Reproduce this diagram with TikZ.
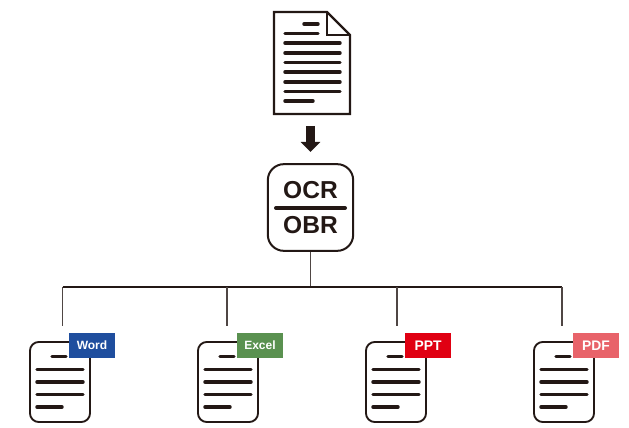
\documentclass[tikz,border=0pt]{standalone}
\usepackage{fontspec}
\setmainfont{Liberation Sans}
\usetikzlibrary{arrows.meta}
\definecolor{inkdark}{HTML}{231815}
\definecolor{wordblue}{HTML}{1F4E9E}
\definecolor{excelgreen}{HTML}{5A9150}
\definecolor{pptred}{HTML}{E00012}
\definecolor{pdfpink}{HTML}{E8636A}
\tikzset{
	pageline/.style={inkdark, line width=2.6pt, line cap=round},
	ruleline/.style={inkdark, line width=3pt, line cap=round},
	pageedge/.style={inkdark, line width=1.7pt, line join=miter},
	treeline/.style={inkdark!80, line width=0.9pt},
	engine/.style={draw=inkdark, line width=1.5pt, fill=white, rounded corners=12pt, minimum width=64pt, minimum height=65pt},
	smalldoc/.style={draw=inkdark, line width=1.4pt, fill=white, rounded corners=6.5pt, minimum width=45pt, minimum height=60pt},
	filetag/.style={minimum width=34.5pt, minimum height=18.75pt, inner sep=0pt, text=white, font=\bfseries},
	bigtext/.style={text=inkdark, inner sep=0pt, font=\fontsize{18.4}{20}\selectfont\bfseries}
}
\begin{document}
\begin{tikzpicture}[x=0.75pt, y=-0.75pt]
	\useasboundingbox (0,0) rectangle (629,428);

	%Scanned page
	\draw[pageedge] (274,12) -- (327,12) -- (350,35) -- (350,114) -- (274,114) -- cycle;
	\draw[pageedge] (327,12) -- (327,35) -- (350,35);
	\draw[pageline] (304,24) -- (318,24);
	\draw[pageline] (285,33.5) -- (318,33.5);
	\foreach \y in {43,53,62.5,72,82,91.5} {
		\draw[pageline] (285,\y) -- (340,\y);
	}
	\draw[pageline] (285,101) -- (313,101);

	%Block arrow
	\coordinate (arrowtop) at (310.5,126);
	\coordinate (arrowend) at (310.5,152);
	\draw[inkdark, line width=6.75pt, -{Triangle[length=7.5pt, width=14.5pt]}] (arrowtop) -- (arrowend);

	%OCR box
	\node[engine] (engine) at (310.5,207.5) {};
	\node[bigtext] (ocrtext) at (310.5,190.5) {OCR};
	\node[bigtext] (obrtext) at (310.5,225) {OBR};
	\draw[ruleline] (276,208) -- (345,208);

	%Tree
	\coordinate (bus) at (310.5,287);
	\coordinate (busleft) at (62.5,287);
	\coordinate (busright) at (562,287);
	\draw[treeline] (engine.south) -- (bus);
	\draw[inkdark, line width=1pt] (busleft) -- (busright);

	%Output files
	\foreach \i/\x/\drop/\label/\col/\size in {
		word/60/62.5/Word/wordblue/9,
		excel/228/227/Excel/excelgreen/9,
		ppt/396/397/PPT/pptred/10.4,
		pdf/564/562/PDF/pdfpink/10.4} {
		\coordinate (top\i) at (\drop,287);
		\coordinate (end\i) at (\drop,326);
		\draw[treeline] (top\i) -- (end\i);
		\node[smalldoc] (\i) at (\x,382) {};
		\draw[pageline] (\x-8,356.7) -- (\x+6,356.7);
		\foreach \y in {369.5,382,394.5} {
			\draw[pageline] (\x-23,\y) -- (\x+23,\y);
		}
		\draw[pageline] (\x-23,407) -- (\x+2,407);
		\node[filetag, fill=\col] (\i tag) at (\x+32,345.5) {\fontsize{\size}{11}\selectfont \label};
	}
\end{tikzpicture}
\end{document}
